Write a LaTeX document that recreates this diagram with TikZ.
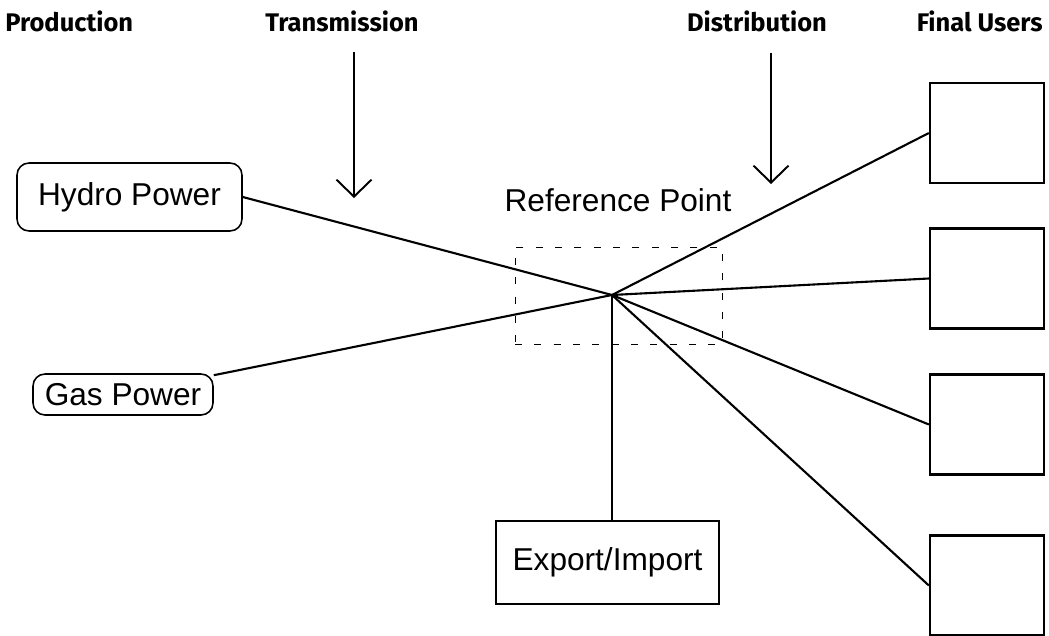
\documentclass[tikz,border=0pt]{standalone}
\usepackage{fontspec}
\setmainfont{Liberation Sans}
\newfontfamily\headfont{Fira Sans}
\usetikzlibrary{arrows.meta}
\tikzstyle{head} = [font=\headfont\bfseries\fontsize{14.5}{16}\selectfont, inner sep=0pt]
\tikzstyle{label} = [font=\fontsize{18}{20}\selectfont, inner sep=0pt]
\tikzstyle{plant} = [draw, rounded corners=0.24cm, line width=0.9pt, label]
\tikzstyle{userbox} = [draw, line width=1.3pt, minimum width=2.28cm, minimum height=2cm]
\tikzstyle{downarrow} = [line width=1.1pt, -{Straight Barb[length=0.34cm, width=0.7cm, line width=1.1pt]}]
\tikzstyle{link} = [line width=1.2pt]

\begin{document}
\begin{tikzpicture}[x=0.02cm, y=-0.02cm]
		\useasboundingbox (0,0) rectangle (1049,636);

		% column titles
		\node (prod) [head, anchor=west] at (5,21) {Production};
		\node (trans) [head] at (342,21) {Transmission};
		\node (distr) [head] at (757,21) {Distribution};
		\node (final) [head, anchor=east] at (1043,21) {Final Users};

		\coordinate (ta) at (354,52);
		\coordinate (da) at (771,53);
		\draw [downarrow] (ta) -- ++(0,146);
		\draw [downarrow] (da) -- ++(0,131);

		% producers
		\node (hydro) [plant, minimum width=4.5cm, minimum height=1.36cm] at (129.5,197) {Hydro Power};
		\node (gas) [plant, minimum width=3.6cm, minimum height=0.82cm] at (123,394.5) {Gas Power};

		% reference point
		\coordinate (refpt) at (612,295);
		\node (refbox) [draw, line width=0.5pt, dash pattern=on 4pt off 7pt, minimum width=4.14cm, minimum height=1.94cm] at (618.5,295.5) {};
		\node (reflabel) [label] at (618,200) {Reference Point};

		\node (export) [draw, line width=1pt, minimum width=4.46cm, minimum height=1.66cm, label] at (607.5,562.5) {Export/Import};

		% final users
		\node (user1) [userbox] at (987,133) {};
		\node (user2) [userbox] at (987,278.5) {};
		\node (user3) [userbox] at (987,424.5) {};
		\node (user4) [userbox] at (987,585.5) {};

		\draw [link] (hydro.east) -- (refpt);
		\draw [link] (gas.12) -- (refpt);
		\draw [link] (refpt) -- (refpt |- export.north);
		\draw [link] (refpt) -- (user1.west);
		\draw [link] (refpt) -- (user2.west);
		\draw [link] (refpt) -- (user3.west);
		\draw [link] (refpt) -- (user4.west);
	\end{tikzpicture}
\end{document}
